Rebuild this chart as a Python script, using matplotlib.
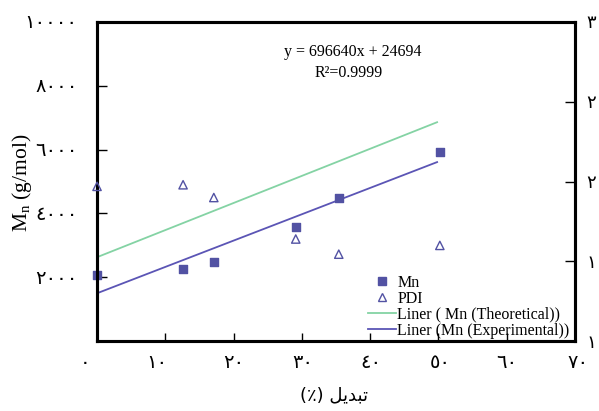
# plot.py
# Mn / PDI vs conversion chart, Persian axis labels, saved to out.png

import matplotlib
matplotlib.use("Agg")
import matplotlib.pyplot as plt
import matplotlib.transforms as mtransforms
from matplotlib.lines import Line2D

FONT = ["Liberation Serif", "DejaVu Sans"]
plt.rcParams["font.family"] = FONT
plt.rcParams["mathtext.fontset"] = "custom"
plt.rcParams["mathtext.rm"] = "Liberation Serif"
plt.rcParams["mathtext.it"] = "Liberation Serif:italic"

# data
conversion = [0, 12.6, 17.1, 29.1, 35.4, 50.2]
mn = [2070, 2260, 2480, 3570, 4480, 5930]
pdi = [1.97, 1.98, 1.90, 1.64, 1.545, 1.60]

fit_x = [0, 49.8]
mn_theo_fit = [2630, 6860]
mn_exp_fit = [1500, 5610]

x_tick_vals = [0, 10, 20, 30, 40, 50, 60, 70]
x_label_pos = [-1.8, 8.7, 20, 30.1, 40.1, 50.2, 60, 70.4]  # labels sit a bit off in the original
left_ticks = [2000, 4000, 6000, 8000, 10000]
right_ticks = [1, 1.5, 2, 2.5, 3]
right_labels = ["1", "1", "2", "2", "3"]  # only the first digit shows in the original

equation = "y = 696640x + 24694"
r_squared = "R\u00b2=0.9999"

AR = str.maketrans("0123456789", "\u0660\u0661\u0662\u0663\u0664\u0665\u0666\u0667\u0668\u0669")
def ar(v):
    return str(v).translate(AR)

# "تبدیل (٪)" written in visual order with presentation forms (no shaping in mpl)
x_title = "(\u066A) " + "\uFEDE\uFEF3\uFEAA\uFE92\uFE97"

MARK = "#5252A3"
GREEN = "#84D3A4"
BLUE = "#5B55B5"
DIGIT_SIZE = 14

fig = plt.figure(figsize=(5.99, 4.11), dpi=100)
ax = fig.add_axes([0.162, 0.170, 0.798, 0.7765])
ax2 = ax.twinx()

ax.plot(fit_x, mn_theo_fit, color=GREEN, lw=1.3)
ax.plot(fit_x, mn_exp_fit, color=BLUE, lw=1.3)
ax.scatter(conversion, mn, marker="s", s=38, color=MARK, zorder=3, clip_on=False)
ax2.scatter(conversion, pdi, marker="^", s=36, facecolors="none",
            edgecolors=MARK, linewidths=1.0, zorder=3, clip_on=False)

ax.set_xlim(0, 70)
ax.set_ylim(0, 10000)
ax2.set_ylim(1, 3)

for a in (ax, ax2):
    for sp in a.spines.values():
        sp.set_linewidth(2.2)
        sp.set_color("black")

ax.set_xticks(x_tick_vals)
ax.set_xticklabels([])
ax.tick_params(axis="x", direction="in", length=6, width=1, top=False)
trans = mtransforms.blended_transform_factory(ax.transData, ax.transAxes)
for v, p in zip(x_tick_vals, x_label_pos):
    ax.text(p, -0.07, ar(v), transform=trans, ha="center", va="center",
            fontsize=DIGIT_SIZE, family=FONT)

ax.set_yticks(left_ticks)
ax.set_yticklabels([ar(v) for v in left_ticks], fontsize=DIGIT_SIZE)
ax.tick_params(axis="y", direction="in", length=7, width=1, pad=14)

ax2.set_yticks(right_ticks)
ax2.set_yticklabels([ar(v) for v in right_labels], fontsize=13)
ax2.tick_params(axis="y", direction="in", length=7, width=1, pad=8)

ax.set_ylabel("M$_{\\mathrm{n}}$ (g/mol)", fontsize=15.5)
ax.yaxis.set_label_coords(-0.132, 0.495)
fig.text(0.558, 0.038, x_title, ha="center", va="center", fontsize=13,
         family=["DejaVu Sans"])

ax.text(0.536, 0.906, equation, transform=ax.transAxes, ha="center",
        va="center", fontsize=11.5)
ax.text(0.527, 0.840, r_squared, transform=ax.transAxes, ha="center",
        va="center", fontsize=11.5)

handles = [
    Line2D([], [], ls="none", marker="s", ms=6, color=MARK),
    Line2D([], [], ls="none", marker="^", ms=6, mfc="none", mec=MARK, mew=1.0),
    Line2D([], [], color=GREEN, lw=1.3),
    Line2D([], [], color=BLUE, lw=1.3),
]
labels = ["Mn", "PDI", "Liner ( Mn (Theoretical))", "Liner (Mn (Experimental))"]
ax2.legend(handles, labels, loc="lower left", bbox_to_anchor=(0.566, 0.008),
           frameon=False, fontsize=11.5, borderpad=0, borderaxespad=0,
           handlelength=1.75, handletextpad=0.1, labelspacing=0.0)

fig.savefig("out.png", dpi=100)
